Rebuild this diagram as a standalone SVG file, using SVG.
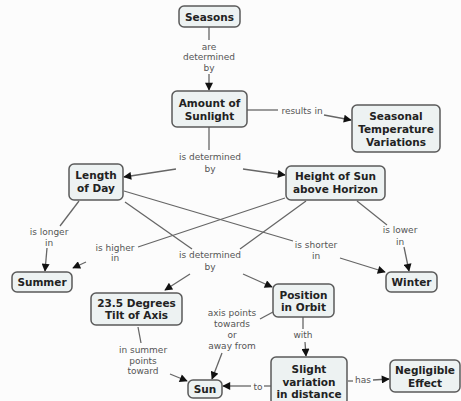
<svg xmlns="http://www.w3.org/2000/svg" width="461" height="401" viewBox="0 0 461 401">
<defs>
<marker id="arr" viewBox="0 0 10 10" refX="9" refY="5" markerWidth="9" markerHeight="8" markerUnits="userSpaceOnUse" orient="auto">
<path d="M0,0 L10,5 L0,10 Z" fill="#111"/>
</marker>
<style>
.node rect{fill:#edf2f2;stroke:#5a5a5a;stroke-width:1.5}
.node text{font-family:"DejaVu Sans",Verdana,sans-serif;font-weight:bold;font-size:10.5px;fill:#222;text-anchor:middle}
.lbl{font-family:"DejaVu Sans",Verdana,sans-serif;font-size:9px;fill:#555;text-anchor:middle}
#connectors path{fill:none;stroke:#666;stroke-width:1.3}
#connectors path.a{marker-end:url(#arr)}
</style>
</defs>
<rect width="461" height="401" fill="#fcfcfc"/>
<g id="connectors">
<path d="M209,27 L209,40"/><path class="a" d="M209,74 L209,90"/>
<path d="M247,110 L278,110"/><path class="a" d="M324,115 L351,120"/>
<path d="M209,127 L209,150"/>
<path class="a" d="M176,169 L124,177"/><path class="a" d="M243,169 L285,175"/>
<path d="M79,201 L60,226"/><path class="a" d="M47,248 L45,271"/>
<path d="M124,191 L293,241"/><path class="a" d="M340,258 L385,272"/>
<path d="M125,202 L192,249"/>
<path d="M285,198 L138,247"/><path class="a" d="M86,262 L73,268"/>
<path d="M306,201 L240,249"/>
<path d="M357,201 L387,225"/><path class="a" d="M404,247 L409,271"/>
<path class="a" d="M190,274 L165,290"/><path class="a" d="M243,274 L272,287"/>
<path d="M273,312 L260,319"/><path class="a" d="M222,353 L212,379"/>
<path d="M138,327 L141,343"/><path class="a" d="M170,374 L187,381"/>
<path d="M303,317 L303,329"/><path class="a" d="M305,342 L306,356"/>
<path d="M271,386 L264,386"/><path class="a" d="M251,386 L223,386"/>
<path d="M348,381 L353,381"/><path class="a" d="M373,380 L389,379"/>
<text class="lbl" x="209" y="50">are</text>
<text class="lbl" x="209" y="60">determined</text>
<text class="lbl" x="209" y="71">by</text>
<text class="lbl" x="302" y="114">results in</text>
<text class="lbl" x="210" y="160">is determined</text>
<text class="lbl" x="210" y="172">by</text>
<text class="lbl" x="49" y="235">is longer</text>
<text class="lbl" x="49" y="246">in</text>
<text class="lbl" x="115" y="251">is higher</text>
<text class="lbl" x="115" y="261">in</text>
<text class="lbl" x="316" y="248">is shorter</text>
<text class="lbl" x="316" y="259">in</text>
<text class="lbl" x="400" y="233">is lower</text>
<text class="lbl" x="400" y="245">in</text>
<text class="lbl" x="210" y="258">is determined</text>
<text class="lbl" x="210" y="270">by</text>
<text class="lbl" x="232" y="316">axis points</text>
<text class="lbl" x="232" y="327">towards</text>
<text class="lbl" x="232" y="338">or</text>
<text class="lbl" x="232" y="349">away from</text>
<text class="lbl" x="143" y="353">in summer</text>
<text class="lbl" x="143" y="364">points</text>
<text class="lbl" x="143" y="374">toward</text>
<text class="lbl" x="303" y="338">with</text>
<text class="lbl" x="258" y="390">to</text>
<text class="lbl" x="363" y="383">has</text>
</g>
<g id="seasons" class="node"><rect x="179" y="6" width="61" height="21" rx="5"/><text x="209.5" y="20.5">Seasons</text></g>
<g id="amount" class="node"><rect x="172" y="91" width="75" height="36" rx="5"/><text x="209.5" y="107">Amount of</text><text x="209.5" y="120">Sunlight</text></g>
<g id="seasonal" class="node"><rect x="352" y="105" width="88" height="47" rx="5"/><text x="396" y="120">Seasonal</text><text x="396" y="133">Temperature</text><text x="396" y="146">Variations</text></g>
<g id="length" class="node"><rect x="69" y="164" width="54" height="36" rx="5"/><text x="96" y="179">Length</text><text x="96" y="192">of Day</text></g>
<g id="height" class="node"><rect x="286" y="166" width="99" height="34" rx="5"/><text x="335.5" y="180">Height of Sun</text><text x="335.5" y="193">above Horizon</text></g>
<g id="summer" class="node"><rect x="12" y="272" width="60" height="20" rx="5"/><text x="42" y="286">Summer</text></g>
<g id="winter" class="node"><rect x="386" y="272" width="51" height="20" rx="5"/><text x="411.5" y="286">Winter</text></g>
<g id="tilt" class="node"><rect x="91" y="293" width="91" height="32" rx="5"/><text x="136.5" y="307">23.5 Degrees</text><text x="136.5" y="319">Tilt of Axis</text></g>
<g id="position" class="node"><rect x="273" y="284" width="61" height="33" rx="5"/><text x="303.5" y="299">Position</text><text x="303.5" y="311">in Orbit</text></g>
<g id="sun" class="node"><rect x="188" y="380" width="34" height="18" rx="5"/><text x="205" y="393">Sun</text></g>
<g id="slight" class="node"><rect x="271" y="357" width="76" height="48" rx="5"/><text x="309" y="373">Slight</text><text x="309" y="386">variation</text><text x="309" y="398">in distance</text></g>
<g id="negligible" class="node"><rect x="390" y="360" width="70" height="32" rx="5"/><text x="425" y="374">Negligible</text><text x="425" y="387">Effect</text></g>
</svg>
